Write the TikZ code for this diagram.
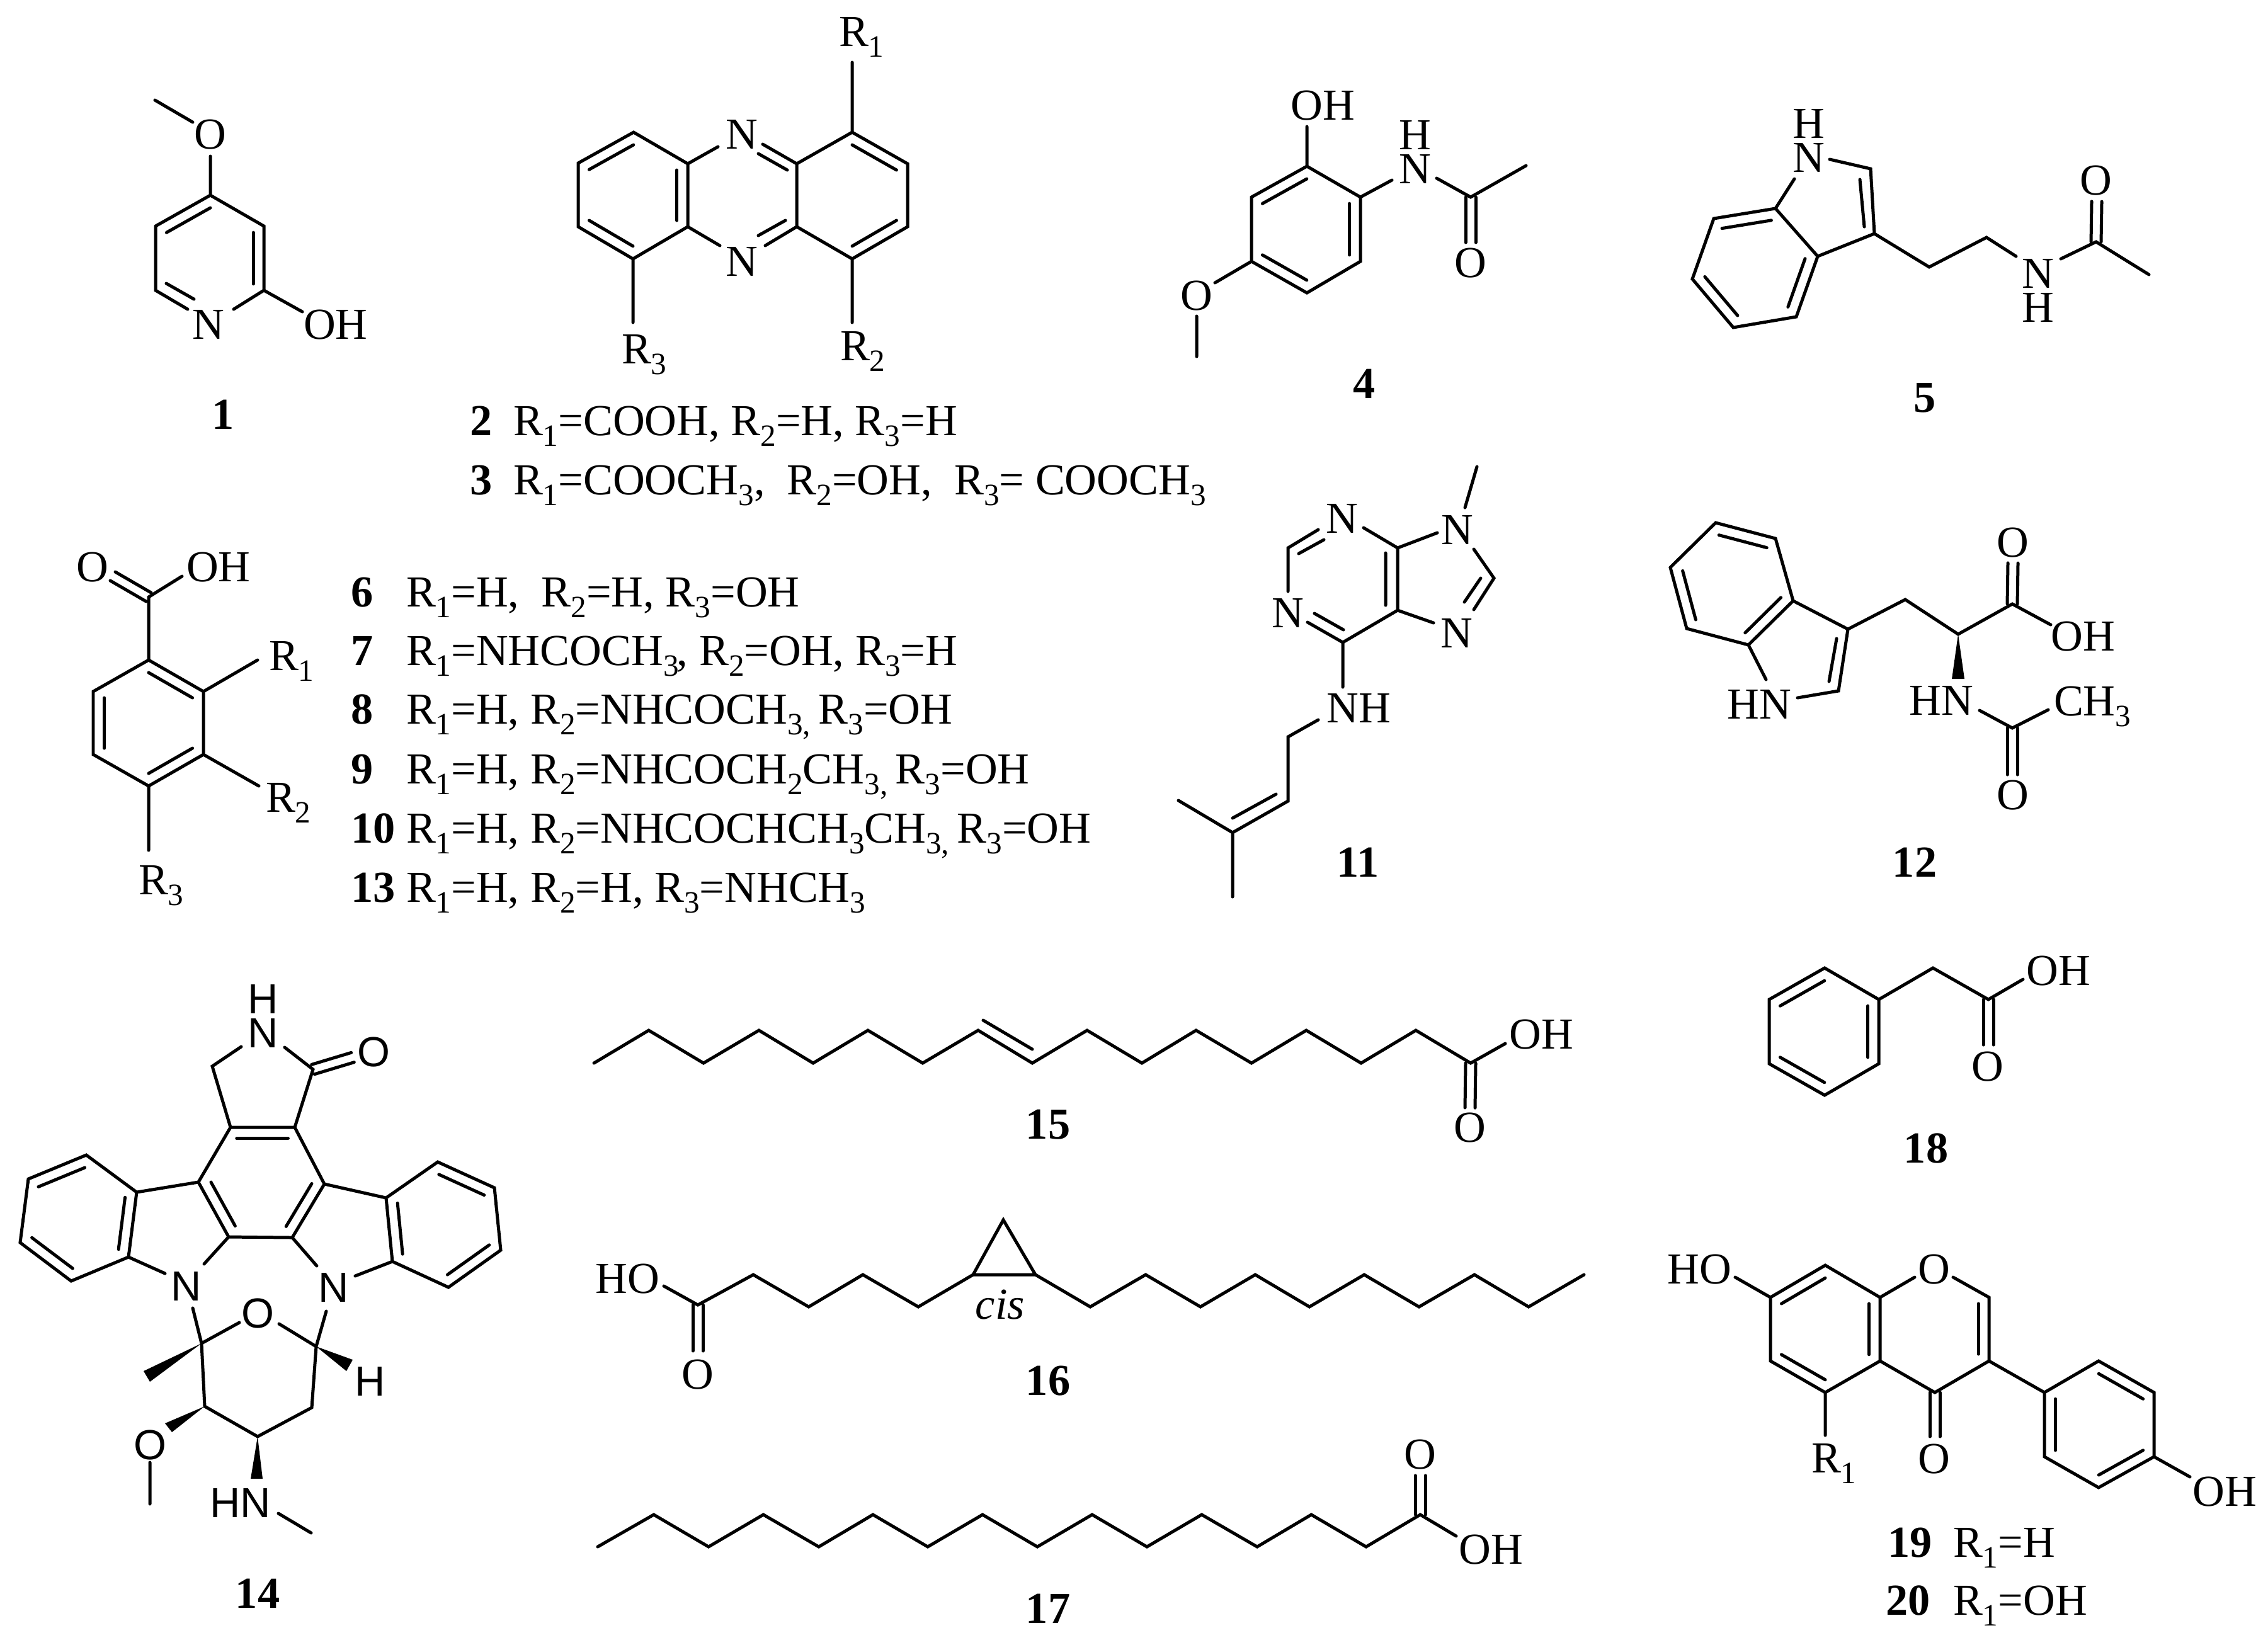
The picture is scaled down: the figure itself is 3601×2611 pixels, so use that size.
\documentclass[tikz,border=0pt]{standalone}
\usepackage{fontspec}
\setmainfont{Liberation Serif}
\newfontfamily\sansf{Liberation Sans}
\usetikzlibrary{calc}
\newcommand\pts[2]{\foreach \n/\px/\py in {#2}{\coordinate (#1\n) at (\px,\py);}}
\newcommand\inr[3]{\draw[bond] ($(#1)!.2!(#3)$) -- ($(#2)!.2!(#3)$);}
\newcommand\dbo[2]{\draw[bond] ($(#1)!.08cm!90:(#2)$) -- ($(#2)!.08cm!-90:(#1)$) ($(#1)!.08cm!-90:(#2)$) -- ($(#2)!.08cm!90:(#1)$);}
\newcommand\sbs[1]{\raisebox{-.25em}{\fontsize{14pt}{14pt}\selectfont #1}}
\newcommand\Ra{R\sbs{1}}
\newcommand\Rb{R\sbs{2}}
\newcommand\Rc{R\sbs{3}}
\newcommand\tri{\sbs{3}}
\newcommand\tric{\sbs{3,}\kern-1.5pt}
\tikzset{
  bond/.style={line width=1.42pt,line cap=round,line join=miter,black},
  lab/.style={inner sep=0pt,outer sep=0pt,text height=13.2pt,text depth=0pt,font=\fontsize{20pt}{24pt}\selectfont},
  lft/.style={lab,anchor=west},
  num/.style={lab,font=\fontsize{20pt}{24pt}\selectfont\bfseries},
  numl/.style={num,anchor=west},
  sns/.style={inner sep=0pt,outer sep=0pt,text height=13.6pt,text depth=0pt,font=\fontsize{19pt}{23pt}\selectfont\sansf},
}
\begin{document}
\begin{tikzpicture}[x=0.01cm,y=-0.01cm]
\useasboundingbox (0,0) rectangle (3601,2611);
\fill[white] (0,0) rectangle (3601,2611);

% ---------- compound 1
\pts{a}{m/246/159,e/306/194,f/334/248,p/334/310,q/419/359,s/419/461,u/247/359,v/247/461,na/298/491,nb/371/491,oh/480/495,ct/334/410,ia/264/450,ib/308/475}
\node[lab] (aO) at (334,213) {O};
\node[lab] (aN) at (331,515) {N};
\node[lab] (aOH) at (533,515) {OH};
\node[num] (n1) at (354,658) {1};
\draw[bond] (am)--(ae) (af)--(ap) (au)--(ap)--(aq)--(as)--(anb) (as)--(aoh) (au)--(av)--(ana);
\inr{ap}{au}{act}\inr{aq}{as}{act}
\draw[bond] (aia)--(aib);

% ---------- compounds 2, 3
\pts{b}{a/1006/210,b/1092/260,c/1092/360,d/1005/411,e/918/360,f/918/259,g/1005/310,h/1353/210,i/1441/260,j/1441/360,k/1353/411,l/1265/360,o/1265/260,p/1353/310,na/1140/233,nb/1143/390,ma/1211/229,mb/1215/390,ia/1204/244,ib/1250/270,ic/1204/374,id/1247/350,ra/1353/99,rb/1353/512,rc/1005/512}
\node[lab] (bNa) at (1178,213) {N};
\node[lab] (bNb) at (1178,415) {N};
\node[lft] (bRa) at (1332,50) {\Ra};
\node[lft] (bRb) at (1334,549) {\Rb};
\node[lft] (bRc) at (987,554) {\Rc};
\draw[bond] (ba)--(bb)--(bc)--(bd)--(be)--(bf)--cycle (bb)--(bna) (bc)--(bnb) (bo)--(bma) (bl)--(bmb)
  (bh)--(bi)--(bj)--(bk)--(bl)--(bo)--cycle (bh)--(bra) (bk)--(brb) (bd)--(brc);
\inr{ba}{bf}{bg}\inr{bb}{bc}{bg}\inr{be}{bd}{bg}\inr{bh}{bi}{bp}\inr{bj}{bk}{bp}
\draw[bond] (bia)--(bib) (bic)--(bid);
\node[numl] (n2) at (746,668) {2};
\node[lft] (t2) at (815,668) {\Ra=COOH, \Rb=H, \Rc=H};
\node[numl] (n3) at (746,762) {3};
\node[lft] (t3) at (815,762) {\Ra=COOCH\tri,\ \ \Rb=OH,\ \ \Rc= COOCH\tri};

% ---------- compound 4
\pts{c}{a/2075/264,b/2160/313,d/2160/415,e/2075/465,f/1987/415,g/1987/313,o/2074/364,oh/2075/201,na/2210/286,nb/2281/283,k/2335/313,m/2423/263,co/2335/385,x/1929/449,y/1900/502,z/1900/566}
\node[lab] (cOH) at (2100,167) {OH};
\node[lab] (cN) at (2247,268) {N};
\node[lab] (cH) at (2247,214) {H};
\node[lab] (cO) at (2335,417) {O};
\node[lab] (cOm) at (1900,469) {O};
\node[num] (n4) at (2166,609) {4};
\draw[bond] (ca)--(cb)--(cd)--(ce)--(cf)--(cg)--cycle (ca)--(coh) (cb)--(cna) (cnb)--(ck)--(cm) (cf)--(cx) (cy)--(cz);
\inr{ca}{cg}{co}\inr{cb}{cd}{co}\inr{ce}{cf}{co}
\dbo{ck}{cco}

% ---------- compound 5
\pts{d}{a/2819/331,b/2721/347,c/2687/443,e/2752/520,f/2852/503,g/2886/407,o/2786/425,na/2849/284,nb/2905/253,h/2970/268,i/2976/371,ia/2953/285,ib/2960/360,j/3063/424,k/3154/377,nc/3201/407,nd/3272/411,l/3328/384,m/3412/436,co/3329/320}
\node[lab] (dN) at (2872,250) {N};
\node[lab] (dH) at (2872,196) {H};
\node[lab] (dNb) at (3236,434) {N};
\node[lab] (dHb) at (3236,488) {H};
\node[lab] (dO) at (3328,286) {O};
\node[num] (n5) at (3056,631) {5};
\draw[bond] (da)--(db)--(dc)--(de)--(df)--(dg)--cycle (da)--(dna) (dnb)--(dh)--(di)--(dg) (di)--(dj)--(dk)--(dnc) (dnd)--(dl)--(dm);
\inr{da}{db}{do}\inr{df}{dg}{do}\inr{dc}{de}{do}
\draw[bond] (dia)--(dib);
\dbo{dl}{dco}

% ---------- compounds 6-10, 13
\pts{e}{a/236/1048,b/323/1098,c/323/1198,d/236/1248,f/148/1198,g/148/1098,o/236/1148,k/236/948,oa/179/915,ob/289/915,ra/409/1048,rb/411/1248,rc/236/1350}
\node[lab] (eO) at (147,900) {O};
\node[lab] (eOH) at (347,900) {OH};
\node[lft] (eRa) at (427,1041) {\Ra};
\node[lft] (eRb) at (422,1266) {\Rb};
\node[lft] (eRc) at (220,1397) {\Rc};
\draw[bond] (ea)--(eb)--(ec)--(ed)--(ef)--(eg)--cycle (ea)--(ek)--(eob) (eb)--(era) (ec)--(erb) (ed)--(erc);
\inr{ea}{eb}{eo}\inr{ec}{ed}{eo}\inr{ef}{eg}{eo}
\dbo{ek}{eoa}
\node[numl] (n6) at (557,940) {6};
\node[lft] (t6) at (645,940) {\Ra=H,\ \ \Rb=H, \Rc=OH};
\node[numl] (n7) at (557,1033) {7};
\node[lft] (t7) at (645,1033) {\Ra=NHCOCH\tri\kern-.8pt, \Rb=OH, \Rc=H};
\node[numl] (n8) at (557,1126) {8};
\node[lft] (t8) at (645,1126) {\Ra=H, \Rb=NHCOCH\tric\ \Rc=OH};
\node[numl] (n9) at (557,1221) {9};
\node[lft] (t9) at (645,1221) {\Ra=H, \Rb=NHCOCH\sbs{2}CH\tric\ \Rc=OH};
\node[numl] (n10) at (557,1315) {10};
\node[lft] (t10) at (645,1315) {\Ra=H, \Rb=NHCOCHCH\tri CH\tric\ \Rc=OH};
\node[numl] (n13) at (557,1409) {13};
\node[lft] (t13) at (645,1409) {\Ra=H, \Rb=H, \Rc=NHCH\tri};

% ---------- compound 11
\pts{f}{a/2345/741,b/2326/806,c/2219/870,d/2165/838,e/2282/846,g/2340/872,h/2372/918,i/2340/968,ia/2351/918,ib/2325/956,j/2276/989,k/2219/969,ic/2200/878,id/2200/961,l/2132/1020,m/2076/988,ie/2087/974,if/2133/1000,o/2045/939,p/2045/870,q/2093/841,ig/2062/879,ih/2102/857,r/2132/1091,s/2093/1143,t/2045/1170,u/2045/1272,v/1957/1322,w/1871/1271,x/1957/1424,ii/2026/1261,ij/1957/1299}
\node[lab] (fNa) at (2314,841) {N};
\node[lab] (fNb) at (2131,823) {N};
\node[lab] (fNc) at (2313,1005) {N};
\node[lab] (fNd) at (2045,973) {N};
\node[lab] (fNH) at (2157,1124) {NH};
\node[num] (n11) at (2156,1369) {11};
\draw[bond] (fa)--(fb) (fd)--(fc)--(fe) (fg)--(fh)--(fi) (fj)--(fk)--(fc) (fk)--(fl)--(fm) (fo)--(fp)--(fq) (fl)--(fr) (fs)--(ft)--(fu)--(fv)--(fw) (fv)--(fx);
\draw[bond] (fia)--(fib) (fic)--(fid) (fie)--(fif) (fig)--(fih) (fii)--(fij);

% ---------- compound 12
\pts{g}{a/2724/830,b/2819/855,c/2847/954,d/2776/1024,e/2678/998,f/2652/901,o/2750/928,h/2804/1079,i/2854/1108,j/2919/1097,k/2934/999,ia/2904/1082,ib/2916/1014,l/3025/952,m/3109/1007,n/3195/959,p/3256/992,q/3196/894,wa/3099/1078,wb/3119/1078,r/3143/1128,s/3195/1156,t/3252/1127,u/3195/1230}
\node[lab] (gHN) at (2793,1118) {HN};
\node[lab] (gOH) at (3307,1010) {OH};
\node[lab] (gO) at (3196,861) {O};
\node[lab] (gHNb) at (3082,1112) {HN};
\node[lft] (gCH) at (3261,1113) {CH\tri};
\node[lab] (gOb) at (3196,1262) {O};
\node[num] (n12) at (3040,1369) {12};
\draw[bond] (ga)--(gb)--(gc)--(gd)--(ge)--(gf)--cycle (gd)--(gh) (gi)--(gj)--(gk)--(gc) (gk)--(gl)--(gm)--(gn)--(gp) (gr)--(gs)--(gt);
\inr{ga}{gb}{go}\inr{gd}{gc}{go}\inr{gf}{ge}{go}
\draw[bond] (gia)--(gib);
\dbo{gn}{gq}\dbo{gs}{gu}
\fill (gm)--(gwa)--(gwb)--cycle;

% ---------- compound 14
\pts{h}{a/383/1662,b/337/1693,c/366/1790,d/452/1663,e/497/1698,f/468/1790,g/560/1679,i/515/1880,j/464/1965,k/363/1964,l/315/1877,o/415/1877,
  p/217/1893,q/137/1834,r/45/1872,s/32/1973,t/113/2034,u/204/1996,v/125/1934,w/262/2022,x/324/2007,
  aa/613/1902,ab/695/1845,ac/785/1886,ad/795/1985,ae/712/2044,af/623/2003,ag/704/1944,ah/564/2026,ai/503/2010,
  aj/306/2077,ak/320/2133,al/518/2082,am/502/2138,an/380/2100,ao/443/2102,ap/325/2233,aq/409/2281,ar/495/2235,
  wa/228/2177,wb/238/2194,wc/560/2159,wd/550/2177,we/262/2260,wf/273/2274,wg/398/2348,wh/417/2348,
  as/238/2322,at/238/2388,au/442/2403,av/494/2434}
\node[sns] (hH) at (418,1586) {H};
\node[sns] (hN) at (418,1640) {N};
\node[sns] (hO) at (593,1670) {O};
\node[sns] (hNa) at (296,2042) {N};
\node[sns] (hNb) at (530,2044) {N};
\node[sns] (hOb) at (409,2085) {O};
\node[sns] (hHb) at (588,2193) {H};
\node[sns] (hOc) at (238,2294) {O};
\node[sns] (hHN) at (382,2386) {HN};
\node[num] (n14) at (409,2530) {14};
\draw[bond] (ha)--(hb)--(hc) (hd)--(he)--(hf) (hc)--(hf)--(hi)--(hj)--(hk)--(hl)--cycle
  (hl)--(hp)--(hq)--(hr)--(hs)--(ht)--(hu)--(hp) (hu)--(hw) (hx)--(hk)
  (hi)--(haa)--(hab)--(hac)--(had)--(hae)--(haf)--(haa) (haf)--(hah) (hai)--(hj)
  (haj)--(hak)--(han) (hal)--(ham)--(hao) (hak)--(hap)--(haq)--(har)--(ham)
  (has)--(hat) (hau)--(hav);
\inr{hc}{hf}{ho}\inr{hi}{hj}{ho}\inr{hk}{hl}{ho}
\inr{hq}{hr}{hv}\inr{hs}{ht}{hv}\inr{hp}{hu}{hv}
\inr{hab}{hac}{hag}\inr{had}{hae}{hag}\inr{haa}{haf}{hag}
\dbo{he}{hg}
\fill (hak)--(hwa)--(hwb)--cycle (ham)--(hwc)--(hwd)--cycle (hap)--(hwe)--(hwf)--cycle (haq)--(hwg)--(hwh)--cycle;

% ---------- compound 15
\pts{i}{a/943/1688,b/1030/1636,c/1117/1688,d/1205/1636,e/1291/1688,f/1378/1636,g/1465/1688,h/1553/1636,j/1639/1688,k/1726/1636,l/1813/1688,m/1899/1636,n/1987/1688,o/2074/1636,p/2161/1688,q/2248/1636,r/2335/1688,s/2390/1657,t/2334/1759,ia/1561/1620,ib/1639/1666}
\node[lab] (iOH) at (2447,1642) {OH};
\node[lab] (iO) at (2334,1790) {O};
\node[num] (n15) at (1664,1785) {15};
\draw[bond] (ia)--(ib)--(ic)--(id)--(ie)--(if)--(ig)--(ih)--(ij)--(ik)--(il)--(im)--(in)--(io)--(ip)--(iq)--(ir)--(is);
\draw[bond] (iia)--(iib);
\dbo{ir}{it}

% ---------- compound 16
\pts{j}{a/1054/2042,b/1108/2072,c/1196/2024,d/1284/2075,e/1370/2024,f/1458/2075,g/1545/2024,h/1644/2024,i/1593/1937,k/1731/2075,l/1819/2024,m/1906/2075,n/1993/2024,o/2079/2075,p/2166/2024,q/2253/2075,r/2341/2024,s/2427/2075,t/2515/2024,u/1108/2145}
\node[lab] (jHO) at (996,2030) {HO};
\node[lab] (jO) at (1108,2182) {O};
\node[lab,font=\fontsize{20pt}{24pt}\selectfont\itshape] (jcis) at (1588,2071) {cis};
\node[num] (n16) at (1664,2192) {16};
\draw[bond] (ja)--(jb)--(jc)--(jd)--(je)--(jf)--(jg)--(jh)--(ji)--(jg) (jh)--(jk)--(jl)--(jm)--(jn)--(jo)--(jp)--(jq)--(jr)--(js)--(jt);
\dbo{jb}{ju}

% ---------- compound 17
\pts{k}{a/949/2456,b/1038/2405,c/1125/2456,d/1212/2405,e/1300/2456,f/1386/2405,g/1473/2456,h/1560/2405,i/1647/2456,j/1734/2405,l/1821/2456,m/1908/2405,n/1996/2456,o/2082/2405,p/2169/2456,q/2255/2405,r/2312/2439,s/2255/2343}
\node[lab] (kO) at (2255,2309) {O};
\node[lab] (kOH) at (2367,2460) {OH};
\node[num] (n17) at (1664,2554) {17};
\draw[bond] (ka)--(kb)--(kc)--(kd)--(ke)--(kf)--(kg)--(kh)--(ki)--(kj)--(kl)--(km)--(kn)--(ko)--(kp)--(kq)--(kr);
\dbo{kq}{ks}

% ---------- compound 18
\pts{l}{a/2897/1537,b/2983/1587,c/2983/1689,d/2897/1739,e/2809/1689,f/2809/1587,o/2896/1638,g/3069/1537,h/3157/1587,i/3212/1555,j/3157/1659}
\node[lab] (lOH) at (3268,1541) {OH};
\node[lab] (lO) at (3156,1693) {O};
\node[num] (n18) at (3058,1823) {18};
\draw[bond] (la)--(lb)--(lc)--(ld)--(le)--(lf)--cycle (lb)--(lg)--(lh)--(li);
\inr{la}{lf}{lo}\inr{lb}{lc}{lo}\inr{ld}{le}{lo}
\dbo{lh}{lj}

% ---------- compounds 19, 20
\pts{m}{a/2898/2009,b/2985/2060,c/2985/2161,d/2898/2211,e/2811/2161,f/2811/2060,o/2898/2110,g/2755/2028,h/3040/2028,i/3101/2028,j/3158/2060,k/3158/2161,l/3072/2211,ia/3141/2070,ib/3141/2150,n/3072/2281,p/2898/2279,
  q/3246/2211,r/3332/2161,s/3420/2211,t/3420/2313,u/3332/2362,v/3246/2313,w/3333/2262,x/3477/2345}
\node[lab] (mHO) at (2698,2015) {HO};
\node[lab] (mO) at (3071,2015) {O};
\node[lab] (mOb) at (3071,2316) {O};
\node[lft] (mR) at (2876,2315) {\Ra};
\node[lab] (mOH) at (3532,2368) {OH};
\draw[bond] (ma)--(mb)--(mc)--(md)--(me)--(mf)--cycle (mf)--(mg) (mb)--(mh) (mi)--(mj)--(mk)--(ml)--(mc) (md)--(mp)
  (mk)--(mq)--(mr)--(ms)--(mt)--(mu)--(mv)--(mq) (mt)--(mx);
\inr{ma}{mf}{mo}\inr{mb}{mc}{mo}\inr{md}{me}{mo}
\inr{mr}{ms}{mw}\inr{mt}{mu}{mw}\inr{mq}{mv}{mw}
\draw[bond] (mia)--(mib);
\dbo{ml}{mn}
\node[numl] (n19) at (2997,2449) {19};
\node[lft] (t19) at (3101,2449) {\Ra=H};
\node[numl] (n20) at (2994,2541) {20};
\node[lft] (t20) at (3101,2541) {\Ra=OH};
\end{tikzpicture}
\end{document}
